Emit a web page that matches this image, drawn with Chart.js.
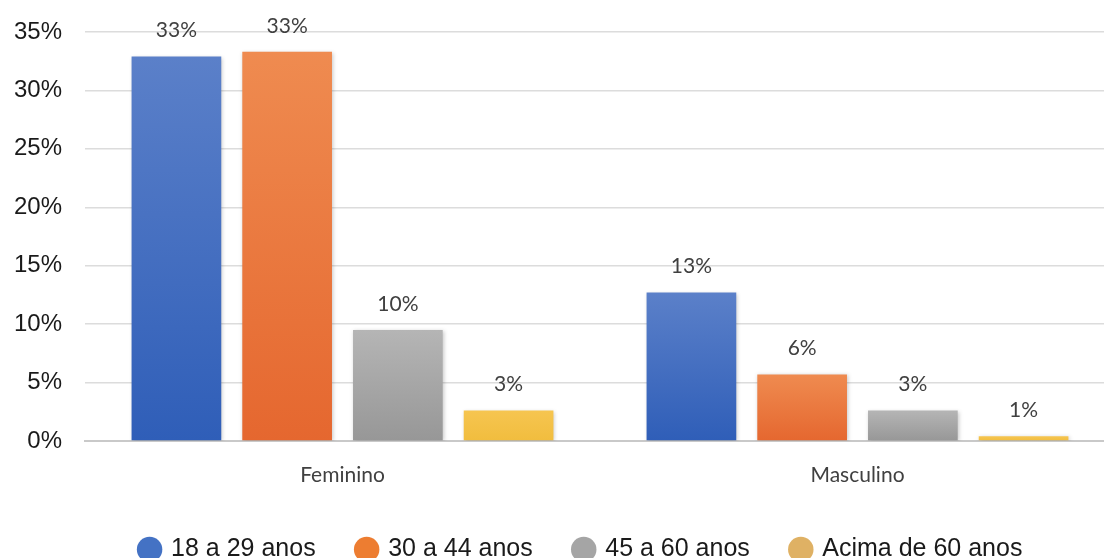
<!DOCTYPE html>
<html lang="pt">
<head>
<meta charset="utf-8">
<title>Faixa etária por sexo</title>
<script src="https://cdn.jsdelivr.net/npm/chart.js@4.4.1/dist/chart.umd.min.js"></script>
<style>
    html, body {
        margin: 0;
        padding: 0;
        background: #ffffff;
        overflow: hidden;
    }
    /* a bit wider than the window: the plot runs off the right edge */
    .chart-container {
        position: relative;
        width: 1115px;
        height: 558px;
    }
</style>
</head>
<body>
<div class="chart-container">
    <canvas id="ageChart"></canvas>
</div>
<script>
// Chart data (percent)
const categories = ['Feminino', 'Masculino'];
const seriesNames = ['18 a 29 anos', '30 a 44 anos', '45 a 60 anos', 'Acima de 60 anos'];
const values18a29 = [32.9, 12.7];
const values30a44 = [33.3, 5.7];
const values45a60 = [9.5, 2.6];
const valuesAcima60 = [2.6, 0.4];
// printed labels, as shown on the chart
const labels18a29 = ['33%', '13%'];
const labels30a44 = ['33%', '6%'];
const labels45a60 = ['10%', '3%'];
const labelsAcima60 = ['3%', '1%'];
const yTickValues = [0, 5, 10, 15, 20, 25, 30, 35];

const seriesValues = [values18a29, values30a44, values45a60, valuesAcima60];
const seriesLabels = [labels18a29, labels30a44, labels45a60, labelsAcima60];

// top / bottom colors of each bar gradient, plus legend swatch color
const barColors = [
    ['#5b80c9', '#2f5eb8'],
    ['#ef8b50', '#e5672f'],
    ['#b5b5b5', '#979797'],
    ['#f6c550', '#f1bd3e']
];
const legendColors = ['#4472c4', '#ed7d31', '#a5a5a5', '#dfb164'];

function barGradient(context, colors) {
    const chart = context.chart;
    if (!chart.chartArea || context.dataIndex === undefined) {
        return colors[0];
    }
    const yScale = chart.scales.y;
    const top = yScale.getPixelForValue(context.raw);
    const bottom = yScale.getPixelForValue(0);
    if (!isFinite(top) || bottom - top < 1) {
        return colors[0];
    }
    const gradient = chart.ctx.createLinearGradient(0, top, 0, bottom);
    gradient.addColorStop(0, colors[0]);
    gradient.addColorStop(1, colors[1]);
    return gradient;
}

// soft shadow behind the bars
const barShadow = {
    id: 'barShadow',
    beforeDatasetsDraw(chart) {
        const ctx = chart.ctx;
        ctx.save();
        ctx.shadowColor = 'rgba(0, 0, 0, 0.22)';
        ctx.shadowBlur = 4;
        ctx.shadowOffsetX = 1;
        ctx.shadowOffsetY = 1;
    },
    afterDatasetsDraw(chart) {
        chart.ctx.restore();
    }
};

// percent labels above each bar
const valueLabels = {
    id: 'valueLabels',
    afterDatasetsDraw(chart) {
        const ctx = chart.ctx;
        ctx.save();
        ctx.font = '21px Lato, "Open Sans", sans-serif';
        ctx.fillStyle = '#404040';
        ctx.textAlign = 'center';
        ctx.textBaseline = 'middle';
        chart.data.datasets.forEach((dataset, i) => {
            const meta = chart.getDatasetMeta(i);
            meta.data.forEach((bar, j) => {
                ctx.fillText(seriesLabels[i][j], bar.x, bar.y - 26);
            });
        });
        ctx.restore();
    }
};

// nudge the legend row to the right, as in the original
const legendShift = {
    id: 'legendShift',
    afterLayout(chart) {
        chart.legend.left += 18;
        chart.legend.right += 18;
    }
};

const datasets = seriesNames.map((name, i) => ({
    label: name,
    data: seriesValues[i],
    backgroundColor: (context) => barGradient(context, barColors[i]),
    borderWidth: 0,
    categoryPercentage: 0.86,
    barPercentage: 0.81
}));

const ctx = document.getElementById('ageChart').getContext('2d');
new Chart(ctx, {
    type: 'bar',
    data: {
        labels: categories,
        datasets: datasets
    },
    options: {
        responsive: true,
        maintainAspectRatio: false,
        animation: false,
        layout: {
            padding: { top: 32, left: 12, right: 0, bottom: -14 }
        },
        plugins: {
            tooltip: { enabled: false },
            legend: {
                position: 'bottom',
                labels: {
                    usePointStyle: true,
                    pointStyle: 'circle',
                    boxHeight: 18,
                    boxWidth: 18,
                    padding: 42,
                    color: '#1a1a1a',
                    font: { family: '"Liberation Sans", Arial, sans-serif', size: 25 },
                    generateLabels: (chart) => {
                        const items = Chart.defaults.plugins.legend.labels.generateLabels(chart);
                        return items.map((item, i) => ({
                            ...item,
                            fillStyle: legendColors[i],
                            strokeStyle: legendColors[i],
                            lineWidth: 0,
                            pointStyle: 'circle'
                        }));
                    }
                }
            }
        },
        scales: {
            x: {
                grid: { display: false, drawTicks: false },
                border: { display: true, color: '#c9c9c9', width: 2 },
                ticks: {
                    padding: 22,
                    color: '#404040',
                    font: { family: 'Lato, "Open Sans", sans-serif', size: 21 }
                },
                afterFit: (scale) => { scale.height = 54; }
            },
            y: {
                min: 0,
                max: 35,
                afterFit: (scale) => {
                    scale.width = 73;
                    scale.paddingTop = 0;
                    scale.paddingBottom = 0;
                },
                afterBuildTicks: (scale) => {
                    scale.ticks = yTickValues.map(v => ({ value: v }));
                },
                grid: {
                    drawTicks: false,
                    color: '#dcdcdc',
                    lineWidth: 1.5
                },
                border: { display: false },
                ticks: {
                    padding: 23,
                    color: '#1a1a1a',
                    font: { family: '"Liberation Sans", Arial, sans-serif', size: 24 },
                    callback: (value) => value + '%'
                }
            }
        }
    },
    plugins: [barShadow, valueLabels, legendShift]
});
</script>
</body>
</html>
